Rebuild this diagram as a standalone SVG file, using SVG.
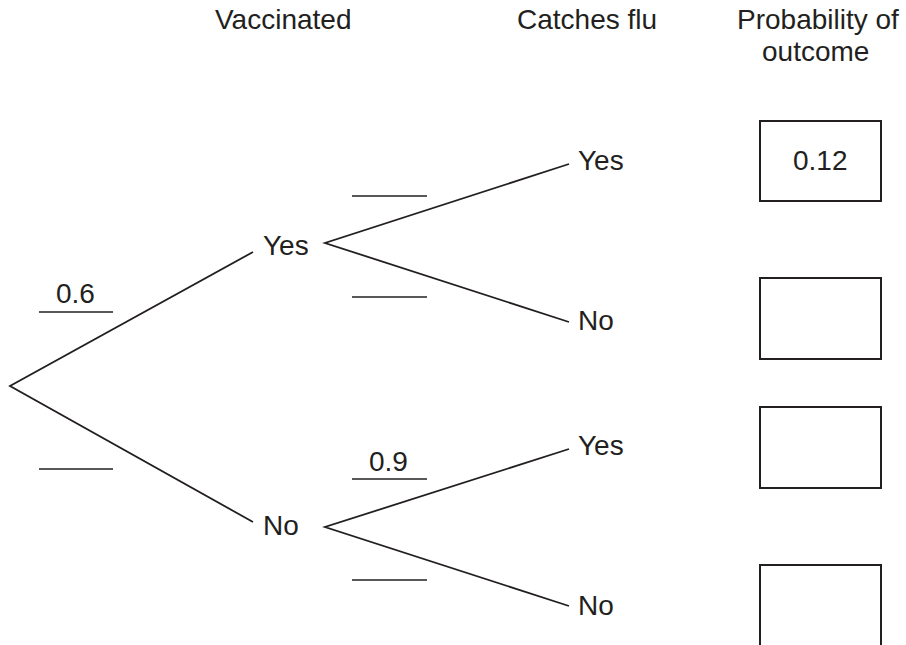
<svg xmlns="http://www.w3.org/2000/svg" width="906" height="645" viewBox="0 0 906 645">
<style>
text{font-family:"Liberation Sans",Arial,sans-serif;font-size:28px;fill:#231f20}
.br{stroke:#231f20;stroke-width:1.8;fill:none}
.ul{stroke:#231f20;stroke-width:1.4}
.box{fill:#fff;stroke:#231f20;stroke-width:2}
</style>
<rect width="906" height="645" fill="#fff"/>
<g id="headers">
<text x="215" y="29">Vaccinated</text>
<text x="517" y="29">Catches flu</text>
<text x="737" y="29">Probability of</text>
<text x="762" y="61">outcome</text>
</g>
<g id="connectors">
<polyline class="br" points="253,252 10,386 253,522"/>
<polyline class="br" points="569,164 325,243 569,322"/>
<polyline class="br" points="569,449 325,527 569,606"/>
</g>
<g id="node-vacc-yes"><text x="263" y="255">Yes</text></g>
<g id="node-vacc-no"><text x="263" y="535">No</text></g>
<g id="node-yes-yes"><text x="578" y="170">Yes</text></g>
<g id="node-yes-no"><text x="578" y="330">No</text></g>
<g id="node-no-yes"><text x="578" y="455">Yes</text></g>
<g id="node-no-no"><text x="578" y="615">No</text></g>
<g id="labels">
<text x="56" y="303">0.6</text>
<line class="ul" x1="39" y1="312" x2="113" y2="312"/>
<line class="ul" x1="39" y1="469" x2="113" y2="469"/>
<line class="ul" x1="352" y1="196" x2="427" y2="196"/>
<line class="ul" x1="352" y1="297" x2="427" y2="297"/>
<text x="369" y="471">0.9</text>
<line class="ul" x1="352" y1="479" x2="427" y2="479"/>
<line class="ul" x1="352" y1="580" x2="427" y2="580"/>
</g>
<g id="box1"><rect class="box" x="760" y="121" width="121" height="80"/><text x="793" y="170">0.12</text></g>
<g id="box2"><rect class="box" x="760" y="278" width="121" height="81"/></g>
<g id="box3"><rect class="box" x="760" y="407" width="121" height="81"/></g>
<g id="box4"><rect class="box" x="760" y="565" width="121" height="90"/></g>
</svg>
